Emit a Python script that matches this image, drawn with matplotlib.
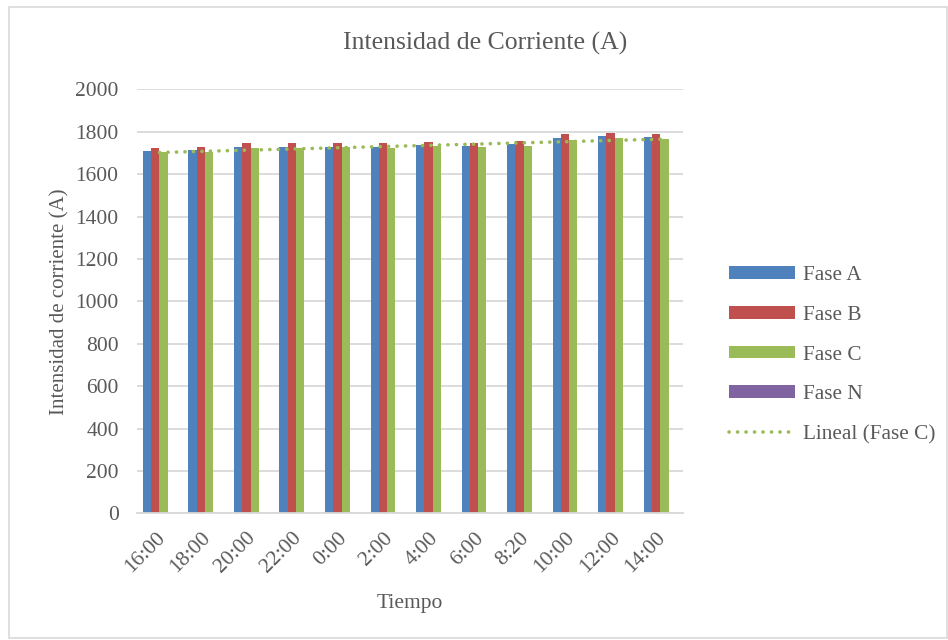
import matplotlib.pyplot as plt
import matplotlib.transforms as mtransforms
import numpy as np

# Datos
horas = ['16:00', '18:00', '20:00', '22:00', '0:00', '2:00',
         '4:00', '6:00', '8:20', '10:00', '12:00', '14:00']
fase_a = [1708, 1713, 1730, 1727, 1729, 1727, 1736, 1732, 1740, 1771, 1779, 1774]
fase_b = [1724, 1727, 1746, 1746, 1749, 1746, 1751, 1749, 1754, 1787, 1793, 1790]
fase_c = [1702, 1705, 1724, 1724, 1727, 1724, 1732, 1729, 1732, 1763, 1772, 1766]
fase_n = [0, 0, 0, 0, 0, 0, 0, 0, 0, 0, 0, 0]

gris = '#595959'
plt.rcParams['font.family'] = ['Liberation Serif', 'DejaVu Serif']

fig = plt.figure(figsize=(9.48, 6.4), dpi=100)
ax = fig.add_axes([136.7 / 948, 1 - 513.3 / 640, (683 - 136.7) / 948, (513.3 - 89.3) / 640])

# Marco exterior del grafico
fig.patches.append(plt.Rectangle((9 / 948, 2 / 640), 938 / 948, 631 / 640,
                                 transform=fig.transFigure, fill=False,
                                 edgecolor='#D9D9D9', linewidth=1.2))

x = np.arange(len(horas))
w = 1 / 5.5
series = [(fase_a, 'Fase A', '#4F81BD'), (fase_b, 'Fase B', '#C0504D'),
          (fase_c, 'Fase C', '#9BBB59'), (fase_n, 'Fase N', '#8064A2')]
barras = []
for i, (vals, nombre, col) in enumerate(series):
    b = ax.bar(x + (i - 1.5) * w, vals, width=w, color=col, label=nombre,
               linewidth=0, zorder=2)
    barras.append(b)

# Linea de tendencia lineal de la Fase C
coef = np.polyfit(x, fase_c, 1)
tend, = ax.plot(x, np.polyval(coef, x), color='#9BBB59', linewidth=2.6,
                linestyle=(0, (0.05, 2.3)), dash_capstyle='round',
                label='Lineal (Fase C)', zorder=3)

ax.set_xlim(-0.5, len(horas) - 0.5)
ax.set_ylim(0, 2000)
ax.set_yticks(np.arange(0, 2001, 200))
ax.set_xticks(x)
ax.set_xticklabels(horas, rotation=45, ha='right', va='top',
                   rotation_mode='anchor')
ax.tick_params(axis='both', length=0, labelsize=15.5, colors=gris)
ax.tick_params(axis='x', pad=11)
ax.tick_params(axis='y', pad=13)
desplaza = mtransforms.ScaledTranslation(-4 / 100, 0, fig.dpi_scale_trans)
for t in ax.get_xticklabels():
    t.set_transform(t.get_transform() + desplaza)
ax.grid(axis='y', color='#D9D9D9', linewidth=1.3, zorder=0)
ax.set_axisbelow(True)
for s in ['top', 'right', 'left']:
    ax.spines[s].set_visible(False)
ax.spines['bottom'].set_color('#D9D9D9')
ax.spines['bottom'].set_linewidth(1.3)

fig.text(485 / 948, 1 - 43 / 640, 'Intensidad de Corriente (A)', fontsize=18.5,
         color=gris, ha='center', va='center')
ax.set_xlabel('Tiempo', fontsize=15.5, color=gris, labelpad=12)
ax.set_ylabel('Intensidad de corriente (A)', fontsize=15, color=gris, labelpad=4)

leg = ax.legend(barras + [tend], [s[1] for s in series] + ['Lineal (Fase C)'],
                loc='center left', bbox_to_anchor=(1.05, 0.373), frameon=False,
                fontsize=15.3, labelcolor=gris, handlelength=3.1, handleheight=0.55,
                labelspacing=0.97, handletextpad=0.35)

fig.savefig('out.png', dpi=100)
